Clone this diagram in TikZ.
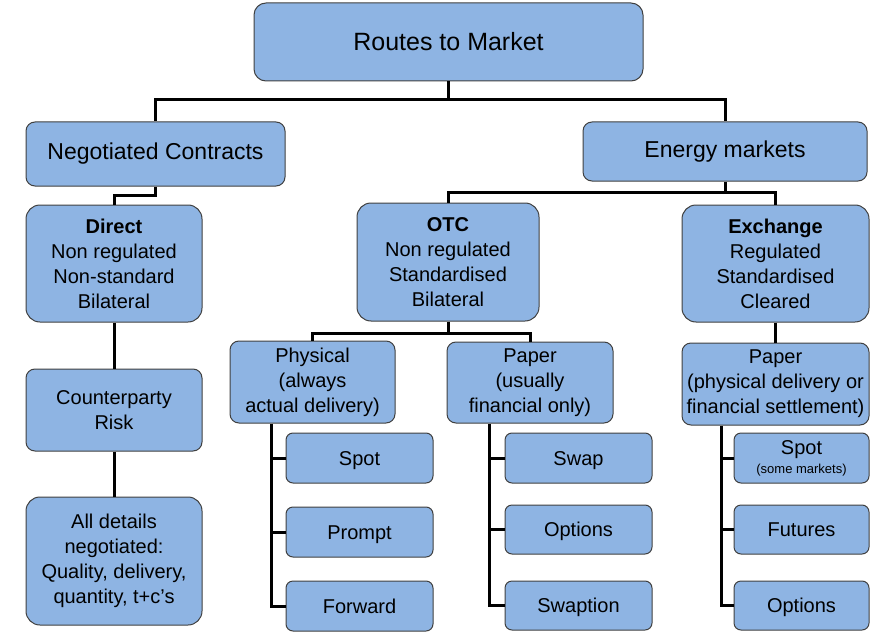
\documentclass[tikz,border=0pt]{standalone}
\usepackage{fontspec}
\setmainfont{Liberation Sans}
\definecolor{boxblue}{HTML}{8EB4E3}

\begin{document}
\begin{tikzpicture}[x=1pt, y=-1pt,
    box/.style={draw=black!75, line width=1pt, fill=boxblue,
        rounded corners=9pt, align=center, inner sep=0pt,
        font=\fontsize{20}{25}\selectfont},
    leaf/.style={box, minimum width=147pt, minimum height=50pt,
        rounded corners=7pt, text height=14.5pt, text depth=0pt},
    link/.style={line width=3pt, black}
]
    \useasboundingbox (0,0) rectangle (890,639);
    % top levels
    \node[box, minimum width=389pt, minimum height=78pt, rounded corners=12pt,
        font=\fontsize{25}{30}\selectfont] (root) at (448.5,42) {Routes to Market};
    \node[box, minimum width=259pt, minimum height=64pt,
        font=\fontsize{23}{28}\selectfont] (neg) at (155.5,154) {Negotiated Contracts};
    \node[box, minimum width=284pt, minimum height=59pt,
        font=\fontsize{23}{28}\selectfont] (energy) at (725,151.5) {Energy markets};
    \node[box, minimum width=176pt, minimum height=117pt, rounded corners=14pt] (direct) at (114,263.5)
        {\textbf{Direct}\\Non regulated\\Non-standard\\Bilateral};
    \node[box, minimum width=182pt, minimum height=118pt, rounded corners=14pt] (otc) at (448,262)
        {\textbf{OTC}\\Non regulated\\Standardised\\Bilateral};
    \node[box, minimum width=187pt, minimum height=117pt, rounded corners=14pt] (exch) at (775.5,263.5)
        {\textbf{Exchange}\\Regulated\\Standardised\\Cleared};
    % second levels
    \node[box, minimum width=176pt, minimum height=82pt] (risk) at (114,410) {Counterparty\\Risk};
    \node[box, minimum width=176pt, minimum height=128pt, rounded corners=14pt] (details) at (114,561)
        {All details\\negotiated:\\Quality, delivery,\\quantity, t+c's};
    \node[box, minimum width=165pt, minimum height=82pt] (phys) at (312.5,382)
        {Physical\\(always\\actual delivery)};
    \node[box, minimum width=166pt, minimum height=81pt] (paper) at (530,382.5)
        {Paper\\(usually\\financial only)};
    \node[box, minimum width=187pt, minimum height=82pt] (xpaper) at (775.5,384)
        {Paper\\(physical delivery or\\financial settlement)};
    % leaves
    \node[leaf] (spot) at (359.5,458) {Spot};
    \node[leaf] (prompt) at (359.5,532) {Prompt};
    \node[leaf] (forward) at (359.5,606) {Forward};
    \node[leaf] (swap) at (578.5,458) {Swap};
    \node[leaf, minimum height=49pt] (options) at (578.5,529.5) {Options};
    \node[leaf, minimum height=49pt] (swaption) at (578.5,605.5) {Swaption};
    \node[leaf, minimum width=135pt, text height=, text depth=] (xspot) at (801.5,458)
        {Spot\\[-6pt]{\fontsize{13}{15}\selectfont (some markets)}};
    \node[leaf, minimum width=135pt, minimum height=49pt] (futures) at (801.5,529.5) {Futures};
    \node[leaf, minimum width=135pt, minimum height=49pt] (xoptions) at (801.5,605.5) {Options};

    % connectors
    \coordinate (rootbus) at (448,100);
    \draw[link] (root.south) -- (root.south |- rootbus) -| (neg.north);
    \draw[link] (root.south |- rootbus) -| (energy.north);
    \draw[link] (neg.south) -- ++(0,9) -| (direct.north);
    \draw[link] (energy.south) -- ++(0,11) coordinate (ebus);
    \draw[link] (ebus) -| (otc.north);
    \draw[link] (ebus) -| (exch.north);
    \draw[link] (direct) -- (risk);
    \draw[link] (risk) -- (details);
    \draw[link] (otc.south) -- ++(0,12) coordinate (obus);
    \draw[link] (obus) -| (phys.north);
    \draw[link] (obus) -| (paper.north);
    \draw[link] (exch) -- (xpaper);

    \coordinate (physT) at (271,0);
    \coordinate (paperT) at (489,0);
    \coordinate (xpaperT) at (721,0);
    \foreach \p/\last in {phys/forward, paper/swaption, xpaper/xoptions}
        \draw[link] (\p.south -| \p T) |- (\last.west);
    \foreach \c/\p in {spot/phys, prompt/phys, swap/paper, options/paper,
        xspot/xpaper, futures/xpaper}
        \draw[link] (\c.west) -- (\c.west -| \p T);
\end{tikzpicture}
\end{document}
